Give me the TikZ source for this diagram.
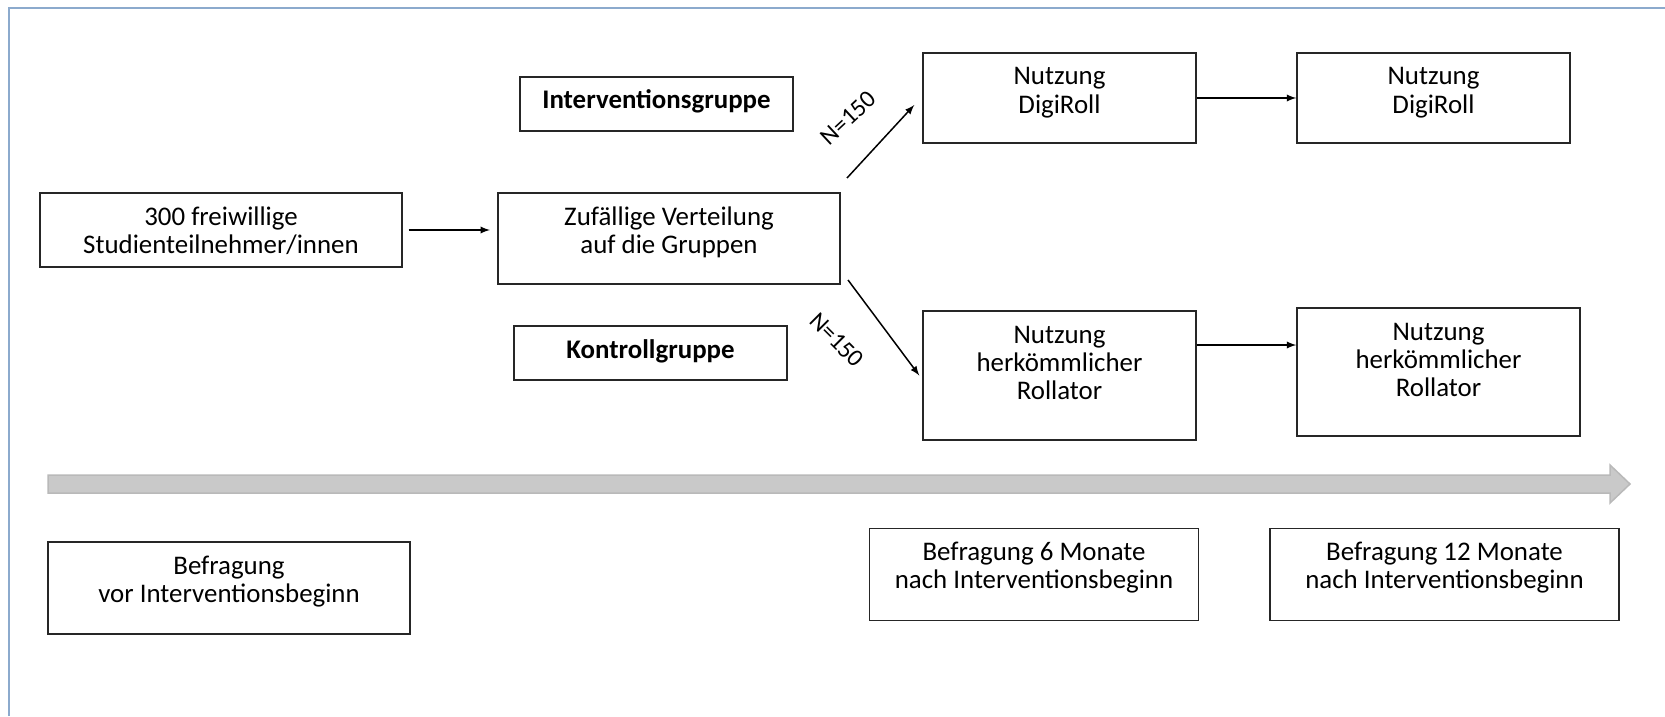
\documentclass[tikz,border=0pt]{standalone}
\usepackage{fontspec}
\setmainfont{Carlito}
\usepackage{tikz}
\definecolor{frameblue}{RGB}{140,170,205}
\definecolor{timegray}{RGB}{201,201,201}
% text inside a box: first baseline 32px below the top edge
\newcommand{\boxtxt}[3]{\parbox[c][#2][t]{#1}{\centering\rule{0pt}{0.64cm}#3}}

\begin{document}
\begin{tikzpicture}[x=0.02cm,y=-0.02cm,
    font=\fontsize{15.3pt}{16.2pt}\selectfont,
    box/.style={draw=black!85,line width=0.03cm,inner sep=0pt},
    boxthick/.style={box,line width=0.045cm},
    arr/.style={-latex,line width=0.03cm},
    nlabel/.style={font=\fontsize{14pt}{15pt}\selectfont,inner sep=1pt}]
    \useasboundingbox (0,0) rectangle (1665,716);
    \draw[frameblue,line width=0.04cm] (9,716) -- (9,8) -- (1665,8);

    % start
    \node[box] (part) at (221,230) {\boxtxt{7.24cm}{1.48cm}{300 freiwillige\\Studienteilnehmer/innen}};
    \node[boxthick] (verteil) at (669,238.5) {\boxtxt{6.84cm}{1.82cm}{Zufällige Verteilung\\auf die Gruppen}};
    \node[box] (ig) at (656.5,104) {\boxtxt{5.46cm}{1.08cm}{\textbf{Interventionsgruppe}}};
    \node[boxthick] (kg) at (650.5,353) {\boxtxt{5.46cm}{1.08cm}{\textbf{Kontrollgruppe}}};

    % groups
    \node[box] (dig1) at (1059.5,98) {\boxtxt{5.46cm}{1.8cm}{Nutzung\\DigiRoll}};
    \node[box] (dig2) at (1433.5,98) {\boxtxt{5.46cm}{1.8cm}{Nutzung\\DigiRoll}};
    \node[box] (her1) at (1059.5,375.5) {\boxtxt{5.46cm}{2.58cm}{Nutzung\\herkömmlicher\\Rollator}};
    \node[box] (her2) at (1438.5,372) {\boxtxt{5.66cm}{2.56cm}{Nutzung\\herkömmlicher\\Rollator}};

    % time line
    \filldraw[fill=timegray,draw=timegray!92!black,line width=0.03cm]
        (48,475) -- (1610,475) -- (1610,465) -- (1630,484) -- (1610,503) -- (1610,493) -- (48,493) -- cycle;

    \node[boxthick] (bef0) at (229,588) {\boxtxt{7.24cm}{1.84cm}{Befragung\\vor Interventionsbeginn}};
    \node[box] (bef6) at (1034,574.5) {\boxtxt{6.58cm}{1.84cm}{Befragung 6 Monate\\nach Interventionsbeginn}};
    \node[box] (bef12) at (1444.5,574.5) {\boxtxt{6.98cm}{1.84cm}{Befragung 12 Monate\\nach Interventionsbeginn}};

    \coordinate (su) at (847,178);
    \coordinate (sd) at (848,280);
    \node[nlabel,rotate=43] (n1) at (848,118) {N=150};
    \node[nlabel,rotate=-45] (n2) at (837,340) {N=150};

    \draw[arr] ([xshift=0.12cm]part.east) -- ([xshift=-0.14cm]part.east -| verteil.west);
    \draw[arr] (su) -- ([shift={(-8,7)}]dig1.west);
    \draw[arr] (sd) -- ([xshift=-0.06cm]her1.west);
    \draw[arr] (dig1.east) -- (dig2.west);
    \draw[arr] ([yshift=0.61cm]her1.east) -- ([yshift=0.61cm]her1.east -| her2.west);
\end{tikzpicture}
\end{document}
